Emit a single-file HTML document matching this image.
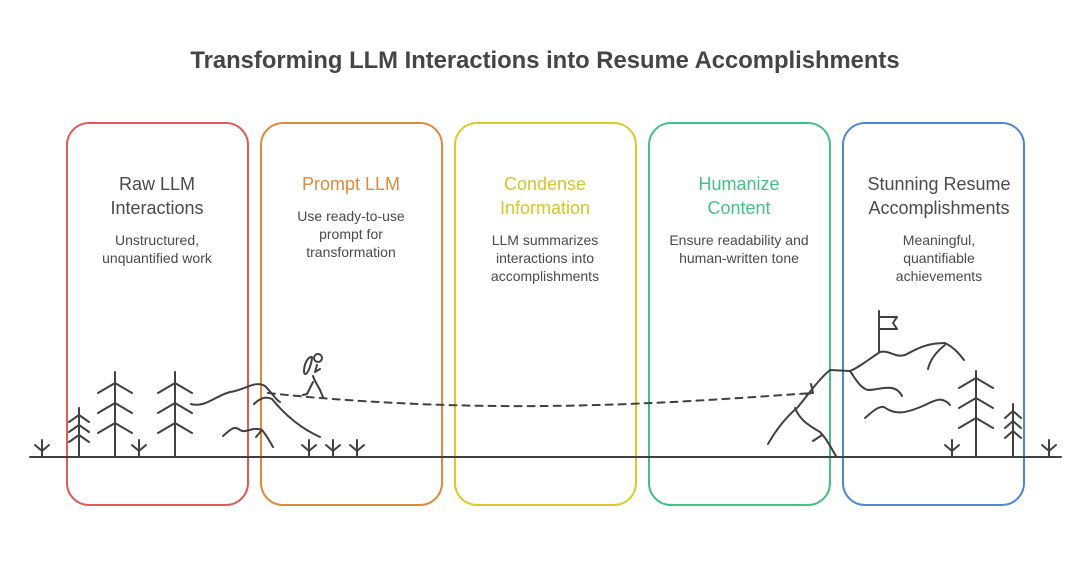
<!DOCTYPE html>
<html><head><meta charset="utf-8"><style>
html,body{margin:0;padding:0;background:#fff;}
svg{display:block;font-family:"Liberation Sans",Arial,sans-serif;}
</style></head><body>
<svg width="1089" height="565" viewBox="0 0 1089 565" xmlns="http://www.w3.org/2000/svg">
<text x="545" y="68" text-anchor="middle" font-size="23.8" font-weight="bold" fill="#454545">Transforming LLM Interactions into Resume Accomplishments</text>
<g fill="none" stroke-width="2">
<rect x="67" y="123" width="181" height="382" rx="22" stroke="#de5b5b"/>
<rect x="261" y="123" width="181" height="382" rx="22" stroke="#dc8a3c"/>
<rect x="455" y="123" width="181" height="382" rx="22" stroke="#d9cb2c"/>
<rect x="649" y="123" width="181" height="382" rx="22" stroke="#45c084"/>
<rect x="843" y="123" width="181" height="382" rx="22" stroke="#4f86d8"/>
</g>
<g text-anchor="middle" font-size="18">
<text x="157" y="190" fill="#4a4a4a">Raw LLM</text>
<text x="157" y="214" fill="#4a4a4a">Interactions</text>
<text x="351" y="190" fill="#dc8a3c">Prompt LLM</text>
<text x="545" y="190" fill="#d4c52a">Condense</text>
<text x="545" y="214" fill="#d4c52a">Information</text>
<text x="739" y="190" fill="#45c084">Humanize</text>
<text x="739" y="214" fill="#45c084">Content</text>
<text x="939" y="190" fill="#4a4a4a">Stunning Resume</text>
<text x="939" y="214" fill="#4a4a4a">Accomplishments</text>
</g>
<g text-anchor="middle" font-size="14" fill="#4a4a4a">
<text x="157" y="245">Unstructured,</text>
<text x="157" y="263">unquantified work</text>
<text x="351" y="221">Use ready-to-use</text>
<text x="351" y="239">prompt for</text>
<text x="351" y="257">transformation</text>
<text x="545" y="245">LLM summarizes</text>
<text x="545" y="263">interactions into</text>
<text x="545" y="281">accomplishments</text>
<text x="739" y="245">Ensure readability and</text>
<text x="739" y="263">human-written tone</text>
<text x="939" y="245">Meaningful,</text>
<text x="939" y="263">quantifiable</text>
<text x="939" y="281">achievements</text>
</g>
<g fill="none" stroke="#404040" stroke-width="2" stroke-linecap="round" stroke-linejoin="round">
<line x1="30" y1="457" x2="1061" y2="457"/>
<path d="M115 372V457M98 393L115 383L132 393M98 413L115 403L132 413M98 433L115 423L132 433"/>
<path d="M175 372V457M158 393L175 383L192 393M158 413L175 403L192 413M158 433L175 423L192 433"/>
<path d="M79 408V457M69 422L79 415L89 422M69 432L79 425L89 432M69 442L79 435L89 442"/>
<path d="M976 371V457M959 388L976 378L993 388M959 408L976 398L993 408M959 428L976 418L993 428"/>
<path d="M1013 404V457M1005 418L1013 411L1021 418M1005 428L1013 421L1021 428M1005 438L1013 431L1021 438"/>
<g>
<path d="M42 440V457M35 445L42 451L49 445"/>
<path d="M139 440V457M132 445L139 451L146 445"/>
<path d="M309 440V457M302 445L309 451L316 445"/>
<path d="M333 440V457M326 445L333 451L340 445"/>
<path d="M357 440V457M350 445L357 451L364 445"/>
<path d="M952 440V457M945 445L952 451L959 445"/>
<path d="M1049 440V457M1042 445L1049 451L1056 445"/>
</g>
<path d="M191 404C205 408 215 396 230 392C245 390 255 380 265 386C272 393 276 400 280 402"/>
<path d="M254 404C260 398 266 396 272 399C285 415 300 428 320 437"/>
<path d="M223 436C230 430 234 425 240 430C246 434 252 426 262 430C267 436 270 442 273 447"/>
<path d="M256 437L262 430"/>
<circle cx="318" cy="358" r="4"/>
<path d="M312 357C306 356 302 372 305 374C308 375 312 362 312 357Z"/>
<path d="M317 365L315 372L320 369"/>
<path d="M313 376C315 382 318 386 320 390L323 397M313 382L307 394L303 395"/>
<path d="M268 393C350 402 450 407 545 406C650 405 740 398 812 393" stroke-dasharray="7 6"/>
<path d="M768 444C776 430 785 418 797 408C808 395 818 380 830 370L850 371C858 368 865 362 880 352C890 350 895 358 905 355C915 350 925 343 945 343C955 348 960 355 964 360"/>
<path d="M795 408C800 420 808 425 820 432C828 440 832 450 836 456"/>
<path d="M813 441L822 435"/>
<path d="M850 371C855 378 860 388 868 390C880 390 895 382 902 396"/>
<path d="M865 418C872 412 878 406 884 407C895 415 905 414 925 405C935 400 942 396 950 405"/>
<path d="M928 369C930 360 936 352 945 345"/>
<path d="M879 352V311M879 317H897L893 323L897 329H879"/>
<path d="M811 384L813 393L806 394"/>
</g>
</svg>
</body></html>
